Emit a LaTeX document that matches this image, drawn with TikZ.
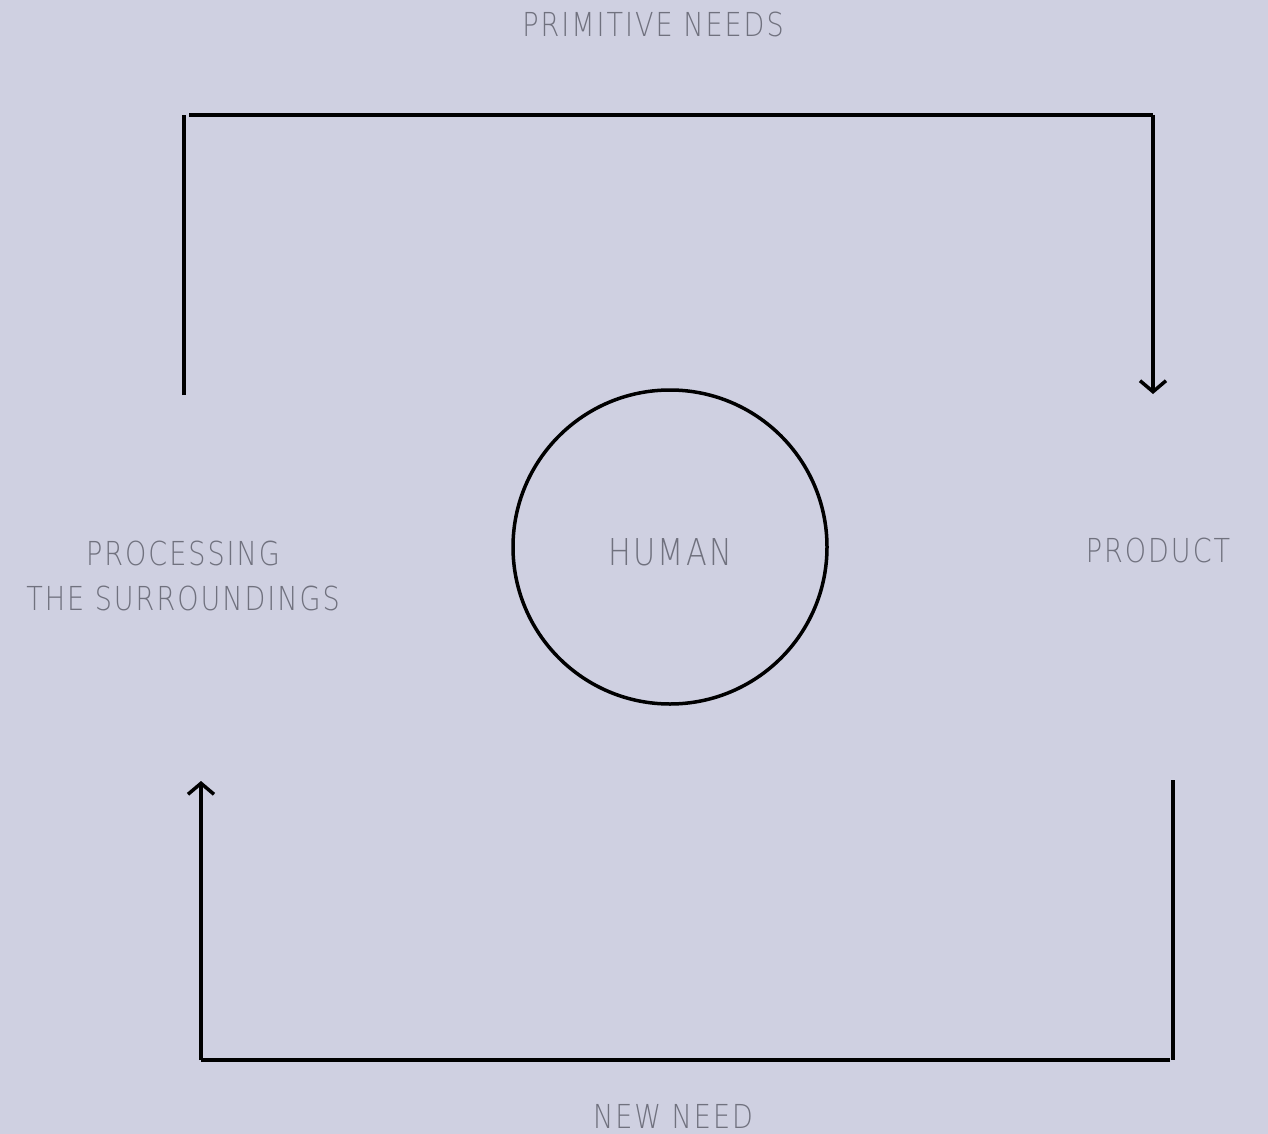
\documentclass[tikz,border=0pt]{standalone}
\usepackage{fontspec}
\setmainfont{DejaVu Sans ExtraLight}[FakeStretch=0.82,LetterSpace=6]
\usetikzlibrary{arrows.meta}
\definecolor{bgc}{HTML}{CFD0E1}
\definecolor{txt}{HTML}{70717E}
\begin{document}
\begin{tikzpicture}[x=1pt,y=-1pt,
  lbl/.style={text=txt,font=\fontsize{33}{45}\selectfont,align=center,inner sep=0pt},
  conn/.style={line width=3.5pt,black},
  tip/.style={-{Straight Barb[length=11pt,width=26pt,line width=3.5pt]}}]
\fill[bgc] (0,0) rectangle (1268,1134);
\useasboundingbox (0,0) rectangle (1268,1134);
\node[lbl] (pn) at (653,24) {PRIMITIVE NEEDS};
\node[lbl] (nn) at (673,1116) {NEW NEED};
\node[lbl] (ps) at (183,576) {PROCESSING\\THE SURROUNDINGS};
\node[lbl] (pr) at (1158,550) {PRODUCT};
\node[circle,draw,line width=3.5pt,minimum size=314pt,inner sep=0pt] (hu) at (670,547) {};
\node[lbl,font=\fontsize{37}{45}\selectfont] (hl) at (670,552) {HUMAN};
% top connector
\coordinate (a1) at (184,395);
\coordinate (a2) at (184,115);
\coordinate (a3) at (189,115);
\coordinate (a4) at (1153,115);
\coordinate (a5) at (1153,394);
\draw[conn] (a1) -- (a2);
\draw[conn] (a3) -- (a4);
\draw[conn,tip] (a4) -- (a5);
% bottom connector
\coordinate (b1) at (1173,780);
\coordinate (b2) at (1173,1060);
\coordinate (b3) at (1170,1060);
\coordinate (b4) at (201,1060);
\coordinate (b5) at (201,781);
\draw[conn] (b1) -- (b2);
\draw[conn] (b3) -- (b4);
\draw[conn,tip] (b4) -- (b5);
\end{tikzpicture}
\end{document}
